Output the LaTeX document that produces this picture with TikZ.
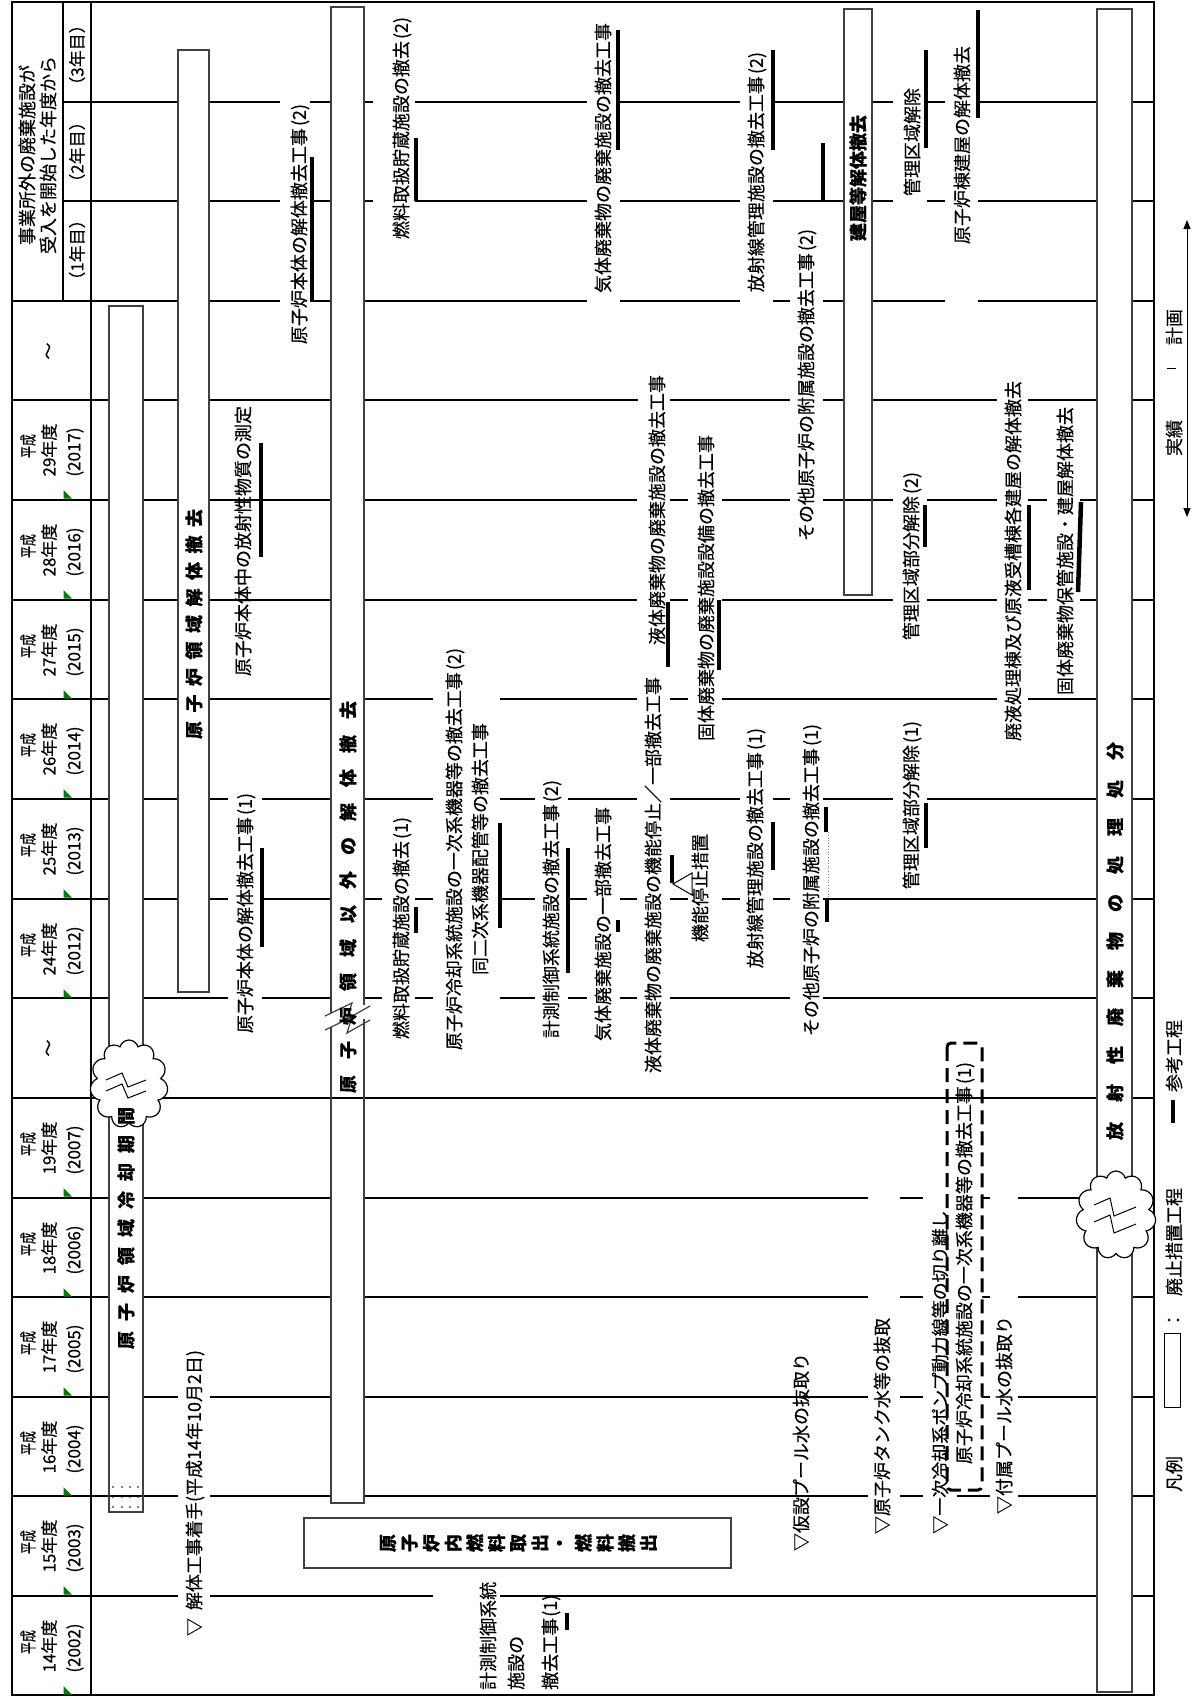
\documentclass[tikz,border=0pt]{standalone}
\usepackage{fontspec}
\setmainfont{Noto Sans CJK JP}[FakeBold=0.35]
\usepackage{graphicx}
\usetikzlibrary{shapes.symbols,arrows.meta}
\tikzset{
  grid/.style={line width=2.2pt},
  barbox/.style={draw=black!75, line width=1.2pt},
  thk/.style={line width=4.5pt},
  lbl/.style={rotate=90, inner sep=0pt, font=\fontsize{18}{21}\selectfont},
  blbl/.style={rotate=90, inner sep=0pt, font=\fontsize{18}{21}\selectfont\bfseries},
  hdr/.style={rotate=90, inner sep=0pt, font=\fontsize{17}{20}\selectfont},
}
\newcommand\gridrow[2]{\foreach \a/\b in {#2}{\draw[grid] (\a,#1) -- (\b,#1);}}
\newcommand\gapA{\hspace{10pt}}
\newcommand\gapB{\hspace{8.5pt}}
\newcommand\gapC{\hspace{16pt}}
\newcommand\gapD{\hspace{20pt}}
\begin{document}
\begin{tikzpicture}[x=1pt,y=-1pt]
\useasboundingbox (0,0) rectangle (1192,1699);
\fill[white] (0,0) rectangle (1192,1699);

% ---------- grid ----------
\gridrow{102}{63/178,209/280,310/331,364/373,415/587,620/740,773/843,872/893,927/945,978/1097,1132/1154}
\gridrow{201}{63/178,209/280,310/331,364/373,415/587,620/740,773/843,872/893,927/945,978/1097,1132/1154}
\gridrow{301}{12/178,209/280,310/331,364/587,620/740,773/790,823/843,872/945,978/1097,1132/1154}
\gridrow{400}{12/109,143/178,209/331,364/638,670/790,823/843,872/997,1028/1097,1132/1154}
\gridrow{500}{12/109,143/178,209/331,364/637,670/688,722/790,823/893,927/997,1028/1047,1080/1097,1132/1154}
\gridrow{600}{12/109,143/178,209/331,364/637,670/688,722/893,927/997,1028/1047,1080/1097,1132/1154}
\gridrow{699}{12/109,143/178,209/331,364/433,500/637,670/688,722/997,1028/1097,1132/1154}
\gridrow{799}{12/109,143/178,209/228,262/331,364/433,500/535,568/637,670/740,773/790,823/893,927/1097,1132/1154}
\gridrow{899}{12/109,143/178,209/228,263/331,364/382,415/433,500/535,568/587,620/637,670/688,722/740,773/790,823/1097,1132/1154}
\gridrow{998}{12/109,143/228,262/331,364/382,415/433,500/535,568/587,620/637,670/790,823/1097,1132/1154}
\gridrow{1098}{12/1097,1132/1154}
\gridrow{1198}{12/109,143/331,364/868,900/923,982/990,1018/1097,1132/1154}
\gridrow{1297}{12/109,143/331,364/868,900/923,982/990,1018/1097,1132/1154}
\gridrow{1397}{12/109,143/178,210/331,364/868,900/923,982/990,1018/1097,1132/1154}
\gridrow{1496}{12/178,210/331,364/868,900/923,957/990,1018/1097,1132/1154}
\gridrow{1596}{12/178,210/433,500/1097,1132/1154}
\draw[grid] (12,2) rectangle (1154,1695);
\draw[grid] (91,2) -- (91,1695);
\draw[grid] (63,2) -- (63,301);

% ---------- header ----------
\node[lbl] (h1) at (27,155) {事業所外の廃棄施設が};
\node[lbl] (h2) at (48,155) {受入を開始した年度から};
\node[hdr] (h3) at (77,55) {（3年目）};
\node[hdr] (h4) at (77,152) {（2年目）};
\node[hdr] (h5) at (77,250) {（1年目）};
\node[hdr] (t1) at (50,351) {～};
\node[hdr] (t2) at (50,1048) {～};
\foreach \yy/\hh/\ad [count=\i] in {450/29/2017,550/28/2016,650/27/2015,749/26/2014,849/25/2013,949/24/2012,1148/19/2007,1248/18/2006,1347/17/2005,1447/16/2004,1546/15/2003,1646/14/2002}{
  \node[hdr] (ya\i) at (28,\yy-4) {\scalebox{0.7}[1]{平成}};
  \node[hdr] (yb\i) at (49,\yy) {\hh 年度};
  \node[hdr] (yc\i) at (75,\yy+2) {(\ad)};
  \fill[green!50!black] (63.5,\yy+40) -- (63.5,\yy+48.5) -- (72,\yy+48.5) -- cycle;
}

% ---------- bars ----------
\draw[barbox] (109,306) rectangle (143,1512);
\foreach \dx in {113,122,130,138}{\foreach \dy in {1487,1497,1507}{\fill (\dx,\dy) circle (0.9);}}
\draw[barbox] (178,50) rectangle (209,992);
\draw[barbox] (331,1013) -- (331,7) -- (364,7) -- (364,1005);
\draw[barbox] (331,1027) -- (331,1503) -- (364,1503) -- (364,1019);
\draw[barbox] (325,1016) -- (352,1003) -- (347,1019) -- (370,1006);
\draw[barbox] (325,1030) -- (352,1017) -- (347,1033) -- (370,1020);
\draw[barbox] (844,9) rectangle (872,595);
\draw[barbox] (1097,9) rectangle (1132,1692);
\draw[barbox] (304,1518) rectangle (731,1568);

% clouds (breaks)
\node[cloud, cloud puffs=11, cloud ignores aspect, draw, fill=white, line width=1.2pt, minimum width=78pt, minimum height=88pt, inner sep=0pt] (cl1) at (129,1084) {};
\draw[line width=1pt] (106,1080) -- (122,1073) -- (128,1087) -- (146,1080);
\draw[line width=1pt] (106,1091) -- (122,1084) -- (128,1098) -- (146,1091);
\node[cloud, cloud puffs=11, cloud ignores aspect, draw, fill=white, line width=1.2pt, minimum width=80pt, minimum height=88pt, inner sep=0pt] (cl2) at (1116,1215) {};
\draw[line width=1pt] (1094,1205) -- (1110,1198) -- (1114,1216) -- (1136,1207);
\draw[line width=1pt] (1094,1222) -- (1110,1215) -- (1114,1233) -- (1136,1224);

% dashed box
\draw[line width=3pt, dash pattern=on 14pt off 7pt, rounded corners=4pt] (947,1043) rectangle (982,1490);

% ---------- bar labels ----------
\node[blbl] (b1) at (126,1228) {原\gapA 子\gapA 炉\gapA 領\gapA 域\gapA 冷\gapA 却\gapA 期\gapA 間};
\node[blbl] (b2) at (194,624) {原\gapB 子\gapB 炉\gapB 領\gapB 域\gapB 解\gapB 体\gapB 撤\gapB 去};
\node[blbl] (b3) at (348,897) {原\gapC 子\gapC 炉\gapC 領\gapC 域\gapC 以\gapC 外\gapC の\gapC 解\gapC 体\gapC 撤\gapC 去};
\node[blbl] (b4) at (1115,941) {放\gapD 射\gapD 性\gapD 廃\gapD 棄\gapD 物\gapD の\gapD 処\gapD 理\gapD 処\gapD 分};
\node[blbl] (b5) at (858,178) {建屋等解体撤去};
\foreach \c [count=\i] in {原,子,炉,内,燃,料,取,出,・,燃,料,搬,出}{
  \node[blbl] (bx\i) at ({388+21.7*(\i-1)},1543) {\c};
}

% ---------- task labels ----------
\node[lbl] (a1) at (300,224) {原子炉本体の解体撤去工事\kern2pt(2)};
\node[lbl] (a2) at (402,128) {燃料取扱貯蔵施設の撤去\kern2pt(2)};
\node[lbl] (a3) at (603,158) {気体廃棄物の廃棄施設の撤去工事};
\node[lbl] (a4) at (757,172) {放射線管理施設の撤去工事\kern2pt(2)};
\node[lbl] (a5) at (807,385) {その他原子炉の附属施設の撤去工事\kern2pt(2)};
\node[lbl] (a7) at (912,142) {管理区域解除};
\node[lbl] (a8) at (962,145) {原子炉棟建屋の解体撤去};
\node[lbl] (a9) at (243,541) {原子炉本体中の放射性物質の測定};
\node[lbl] (a10) at (657,510) {液体廃棄物の廃棄施設の撤去工事};
\node[lbl] (a11) at (706,588) {固体廃棄物の廃棄施設設備の撤去工事};
\node[lbl] (a12) at (912,556) {管理区域部分解除\kern2pt(2)};
\node[lbl] (a13) at (1013,561) {廃液処理棟及び原液受槽棟各建屋の解体撤去};
\node[lbl] (a14) at (1065,551) {固体廃棄物保管施設・建屋解体撤去};
\node[lbl] (a15) at (246,913) {原子炉本体の解体撤去工事\kern2pt(1)};
\node[lbl] (a16) at (402,928) {燃料取扱貯蔵施設の撤去\kern2pt(1)};
\node[lbl] (a17) at (455,849) {原子炉冷却系統施設の一次系機器等の撤去工事\kern2pt(2)};
\node[lbl] (a18) at (480,849) {同二次系機器配管等の撤去工事};
\node[lbl] (a19) at (552,909) {計測制御系統施設の撤去工事\kern2pt(2)};
\node[lbl] (a20) at (603,924) {気体廃棄施設の一部撤去工事};
\node[lbl] (a21) at (653,875) {液体廃棄物の廃棄施設の機能停止／一部撤去工事};
\node[lbl] (a22) at (700,888) {機能停止措置};
\node[lbl] (a23) at (756,848) {放射線管理施設の撤去工事\kern2pt(1)};
\node[lbl] (a24) at (812,880) {その他原子炉の附属施設の撤去工事\kern2pt(1)};
\node[lbl] (a25) at (912,805) {管理区域部分解除\kern2pt(1)};
\node[lbl] (a26) at (965,1263) {原子炉冷却系統施設の一次系機器等の撤去工事\kern2pt(1)};
\node[lbl] (a27) at (940,1372) {▽一次冷却系ポンプ動力線等の切り離し};
\node[lbl] (a28) at (882,1426) {▽原子炉タンク水等の抜取};
\node[lbl] (a29) at (1004,1415) {▽付属プール水の抜取り};
\node[lbl] (a30) at (801,1452) {▽仮設プール水の抜取り};
\node[lbl] (a31) at (195,1493) {▽\hspace{8pt}解体工事着手(平成14年10月2日)};
\node[lbl, anchor=west] (a32) at (488,1690) {計測制御系統};
\node[lbl, anchor=west] (a33) at (516,1690) {施設の};
\node[lbl, anchor=west] (a34) at (551,1690) {撤去工事\kern1pt(1)};

% ---------- thick marks ----------
\draw[thk] (312,157) -- (312,301);
\draw[thk] (416,138) -- (416,201);
\draw[thk] (618,30) -- (618,150);
\draw[thk] (773,50) -- (773,150);
\draw[thk] (823,143) -- (823,201);
\draw[thk] (926,50) -- (926,148);
\draw[thk] (978,10) -- (978,118);
\draw[thk] (261,443) -- (261,557);
\draw[thk] (668,602) -- (668,667);
\draw[thk] (719,600) -- (719,670);
\draw[thk] (925,505) -- (925,547);
\draw[thk] (1029,505) -- (1029,590);
\draw[thk] (1081,502) -- (1078,592);
\draw[thk] (262,848) -- (262,947);
\draw[thk] (416,907) -- (416,933);
\draw[thk] (500,823) -- (500,928);
\draw[thk] (568,848) -- (568,973);
\draw[thk] (618,920) -- (618,932);
\draw[thk] (672,855) -- (672,883);
\draw[thk] (773,822) -- (773,870);
\draw[thk] (926,803) -- (926,848);
\draw[thk] (826,807) -- (826,832);
\draw[black!50, line width=0.8pt, dotted] (828,832) -- (828,899);
\draw[thk] (827,900) -- (827,922);
\draw[thk] (567,1613) -- (567,1630);
\draw[line width=1pt] (673,884) -- (692,873) -- (692,895) -- cycle;

% ---------- legend ----------
\node[lbl] (lg1) at (1174,1474) {凡例};
\draw[line width=1pt] (1164,1333) rectangle (1180,1407);
\node[lbl] (lg2) at (1174,1320) {：};
\node[lbl] (lg3) at (1174,1242) {廃止措置工程};
\draw[thk] (1173,1100) -- (1173,1123);
\node[lbl] (lg4) at (1174,1056) {参考工程};
\node[lbl] (lg5) at (1174,438) {実績};
\draw[line width=1pt] (1167,368) -- (1176,368);
\node[lbl] (lg6) at (1174,327) {計画};
\draw[{Triangle[length=9pt,width=7pt]}-{Triangle[length=9pt,width=7pt]}, line width=0.9pt] (1187,517) -- (1187,220);
\end{tikzpicture}
\end{document}
